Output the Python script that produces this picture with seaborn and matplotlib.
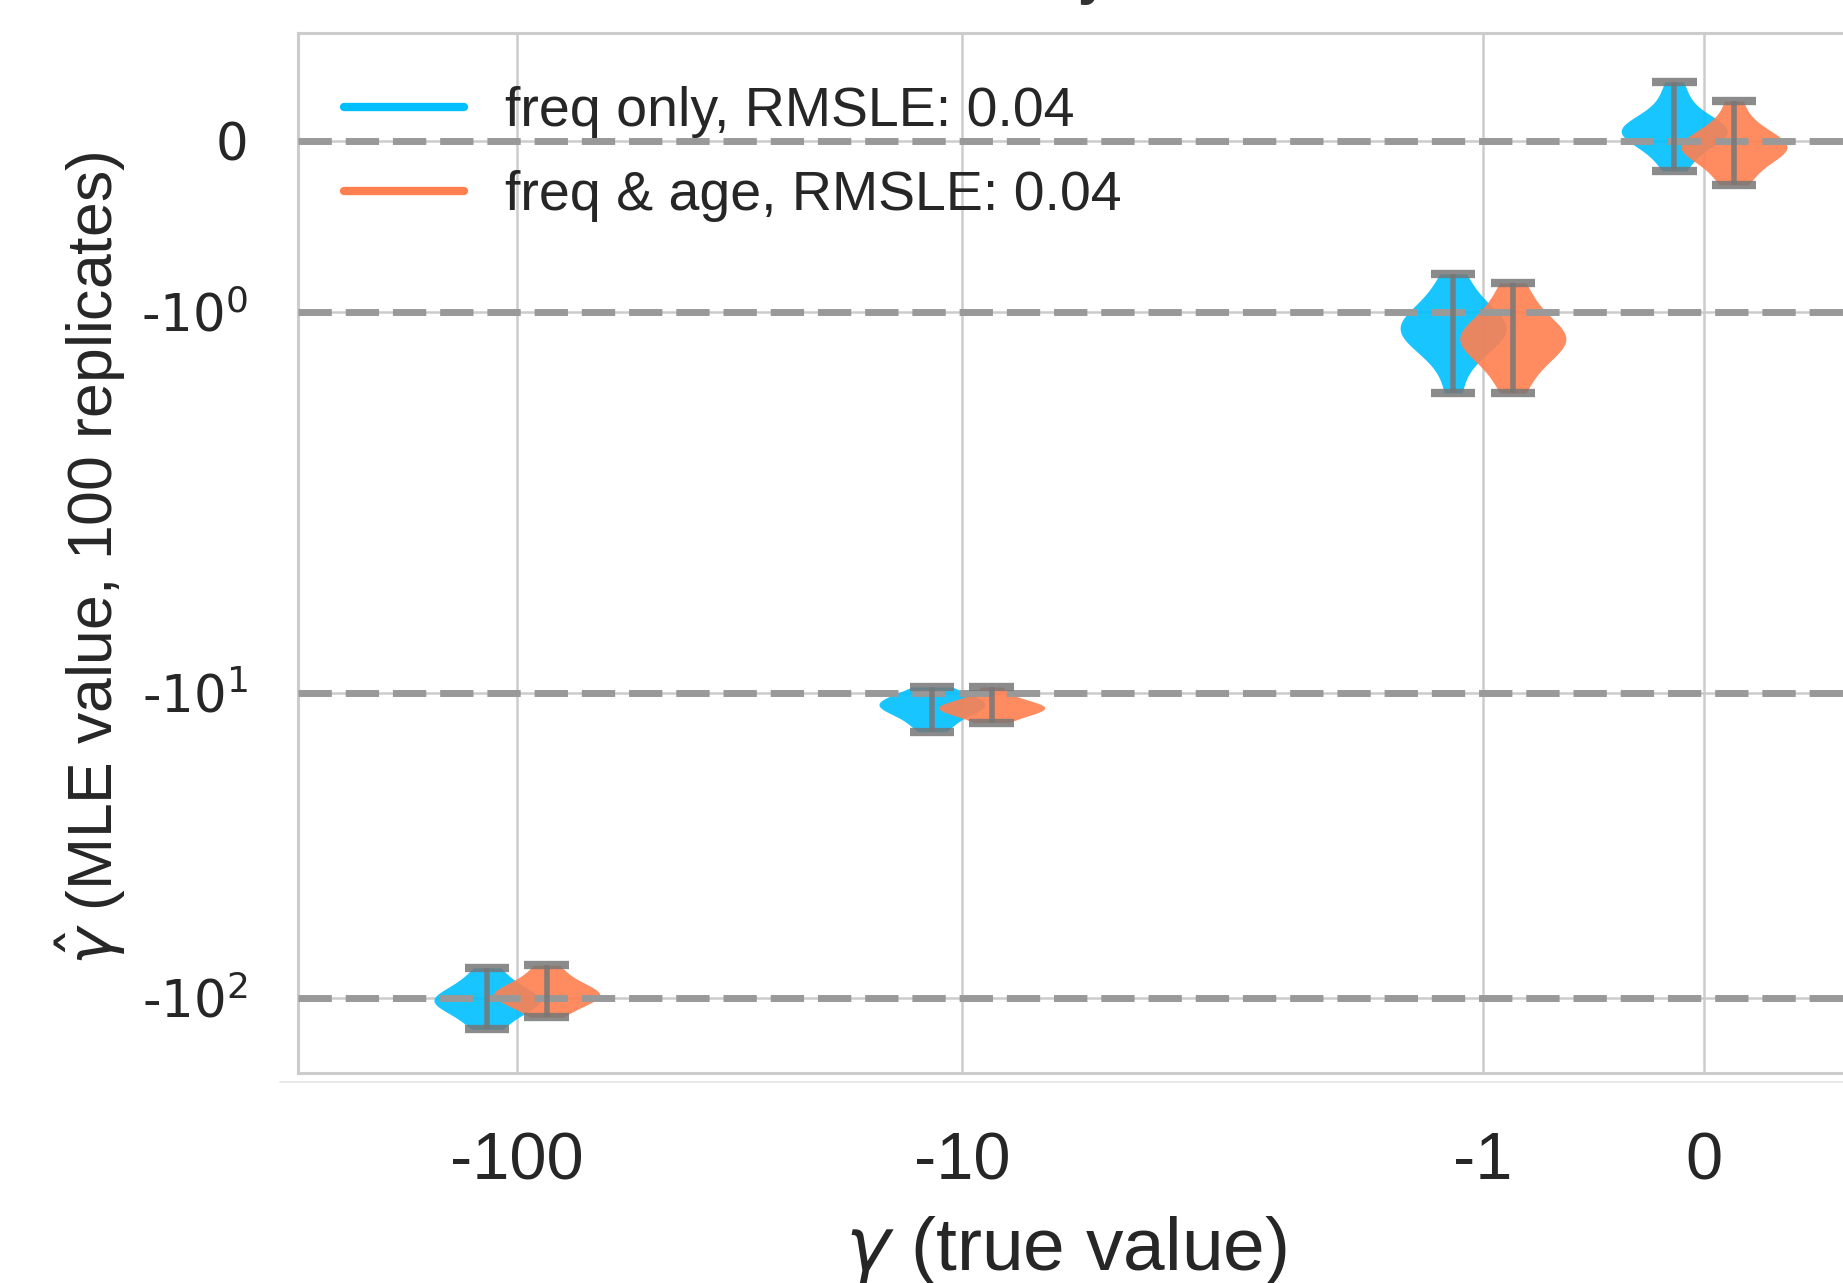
import matplotlib
matplotlib.use("Agg")
import matplotlib.pyplot as plt
import numpy as np
import pandas as pd
import seaborn as sns
from matplotlib.lines import Line2D

# true selection coefficients on the x axis
true_gamma = [-100, -10, -1, 0]
x_tick_labels = ["-100", "-10", "-1", "0"]
y_tick_values = [0, -1, -10, -100]
y_tick_labels = ["0", "-10$^{0}$", "-10$^{1}$", "-10$^{2}$"]

methods = ["freq only", "freq & age"]
rmsle = [0.04, 0.04]
colors = ["deepskyblue", "coral"]

# MLE estimates, one list per method and true value
freq_only_m100 = [-79.6, -86, -90, -94, -97, -99, -101, -102, -104, -106, -109, -113, -119, -126.6]
freq_only_m10 = [-9.55, -10.0, -10.3, -10.5, -10.7, -10.9, -11.0, -11.2, -11.4, -11.7, -12.1, -12.7, -13.4]
freq_only_m1 = [-0.778, -0.88, -0.95, -1.0, -1.04, -1.07, -1.09, -1.1, -1.12, -1.15, -1.19, -1.24, -1.3, -1.474]
freq_only_0 = [-0.175, -0.10, -0.05, -0.01, 0.02, 0.04, 0.05, 0.06, 0.07, 0.08, 0.1, 0.13, 0.18, 0.25, 0.345]

freq_age_m100 = [-78, -84, -88, -91, -94, -96, -97, -98, -100, -102, -105, -109, -115.6]
freq_age_m10 = [-9.55, -10.2, -10.6, -10.8, -11.0, -11.1, -11.2, -11.3, -11.5, -11.7, -12.0, -12.5]
freq_age_m1 = [-0.83, -0.93, -1.0, -1.06, -1.1, -1.13, -1.15, -1.16, -1.18, -1.21, -1.25, -1.3, -1.37, -1.474]
freq_age_0 = [-0.257, -0.2, -0.14, -0.1, -0.07, -0.05, -0.04, -0.03, -0.02, 0.0, 0.03, 0.07, 0.12, 0.234]

estimates = {
    "freq only": [freq_only_m100, freq_only_m10, freq_only_m1, freq_only_0],
    "freq & age": [freq_age_m100, freq_age_m10, freq_age_m1, freq_age_0],
}


def symlog(v, linthresh, linscale):
    v = np.asarray(v, dtype=float)
    a = linscale / (1 - 1 / 10)
    av = np.maximum(np.abs(v), 1e-12)
    return np.where(np.abs(v) <= linthresh, v * a / linthresh,
                    np.sign(v) * (a + np.log10(av / linthresh)))


def sx(v):
    return symlog(v, 1.91, 0.854)


def sy(v):
    return symlog(v, 1.97, 0.994)


rows = []
for m in methods:
    for g, vals in zip(true_gamma, estimates[m]):
        for v in vals:
            rows.append({"method": m, "true": g, "mle": v})
df = pd.DataFrame(rows)

sns.set_theme(style="whitegrid")
plt.rcParams["font.family"] = ["Liberation Sans", "DejaVu Sans"]
plt.rcParams["mathtext.fontset"] = "dejavusans"

fig = plt.figure(figsize=(18.43, 12.83), dpi=100)
ax = fig.add_axes([0.1617, 0.1637, 0.9235, 0.8106])

dodge = 0.067
offsets = [-dodge, dodge]
cap = 0.05

for m, off, col in zip(methods, offsets, colors):
    sub = df[df["method"] == m].copy()
    sub["xpos"] = sx(sub["true"]) + off
    sub["ypos"] = sy(sub["mle"])
    sns.violinplot(data=sub, x="xpos", y="ypos", native_scale=True, orient="x",
                   color=col, saturation=1, density_norm="width", cut=0,
                   inner=None, linewidth=0, width=0.48, alpha=0.9, ax=ax)
    ext = sub.groupby("true")["ypos"].agg(["min", "max"]).reset_index()
    xp = sx(ext["true"]) + off
    ax.vlines(xp, ext["min"], ext["max"], color="#777777", lw=4, alpha=0.85, zorder=4)
    ax.hlines(ext["min"], xp - cap, xp + cap, color="#777777", lw=6, alpha=0.85, zorder=4)
    ax.hlines(ext["max"], xp - cap, xp + cap, color="#777777", lw=6, alpha=0.85, zorder=4)

for g in true_gamma:
    ax.axhline(float(sy(g)), color="#999999", lw=5, dashes=(4.8, 2.0), zorder=3)

ax.set_xlim(-3.1596, 0.665)
ax.set_ylim(-3.0557, 0.354)
ax.set_xticks(sx(true_gamma))
ax.set_xticklabels(x_tick_labels, fontsize=48)
ax.set_yticks(sy(y_tick_values))
ax.set_yticklabels(y_tick_labels, fontsize=37, family=["DejaVu Sans"])
ax.tick_params(axis="x", pad=36)
ax.tick_params(axis="y", pad=30)
ax.grid(True, color="0.8", lw=1.8)
for s in ax.spines.values():
    s.set_color("0.8")
    s.set_linewidth(2.2)

ax.set_xlabel(r"$\gamma$ (true value)", fontsize=54)
ax.set_ylabel(r"$\hat{\gamma}$ (MLE value, 100 replicates)", fontsize=45)
ax.xaxis.set_label_coords(0.451, -0.136)
ax.yaxis.set_label_coords(-0.1, 0.495)

handles = [Line2D([0], [0], color=c, lw=6, solid_capstyle="round") for c in colors]
labels = [f"{m}, RMSLE: {r:.2f}" for m, r in zip(methods, rmsle)]
ax.legend(handles, labels, loc="upper left", bbox_to_anchor=(0.027, 0.949),
          frameon=False, fontsize=40, borderaxespad=0, borderpad=0,
          handlelength=2.16, handletextpad=0.74, labelspacing=0.58)

# remnant of the cut-off title and the faint rule under the axes
fig.text(1093 / 1843, 1 + 7 / 1283, "y", ha="center", va="baseline",
         fontsize=40, fontweight="bold", color="#333333")
fig.add_artist(Line2D([280 / 1843, 1], [1 - 1082 / 1283] * 2,
                      transform=fig.transFigure, color="#e4e4e4", lw=1.2))

fig.savefig("out.png", dpi=100)
